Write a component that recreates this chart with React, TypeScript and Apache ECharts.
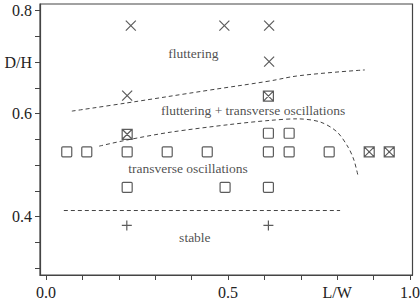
import React, { useEffect, useRef } from "react";
import * as echarts from "echarts";

// ---- data ----
const squares: [number, number][] = [
  [0.057, 0.526], [0.112, 0.526], [0.223, 0.526], [0.333, 0.526], [0.443, 0.526],
  [0.611, 0.526], [0.668, 0.526], [0.778, 0.526],
  [0.611, 0.562], [0.668, 0.562],
  [0.223, 0.457], [0.492, 0.457], [0.611, 0.457],
];
const boxedCrosses: [number, number][] = [
  [0.223, 0.560], [0.611, 0.634], [0.888, 0.526], [0.943, 0.526],
];
const crosses: [number, number][] = [
  [0.233, 0.771], [0.490, 0.771], [0.613, 0.771], [0.613, 0.701], [0.223, 0.635],
];
const pluses: [number, number][] = [
  [0.222, 0.383], [0.611, 0.383],
];
const flutterBoundary: [number, number][] = [
  [0.071, 0.605], [0.223, 0.621], [0.451, 0.646], [0.610, 0.663], [0.698, 0.674], [0.876, 0.685],
];
const transverseBoundary: [number, number][] = [
  [0.146, 0.537], [0.223, 0.549], [0.341, 0.564], [0.505, 0.579], [0.615, 0.587],
  [0.689, 0.590], [0.753, 0.584], [0.799, 0.565], [0.830, 0.535], [0.846, 0.510], [0.858, 0.477],
];
const stableBoundary: [number, number][] = [
  [0.049, 0.412], [0.808, 0.412],
];
const regionLabels = [
  { name: "fluttering", value: [0.405, 0.717] },
  { name: "fluttering + transverse oscillations", value: [0.569, 0.607] },
  { name: "transverse oscillations", value: [0.390, 0.494] },
  { name: "stable", value: [0.409, 0.359] },
];
const xTicks = [0, 0.1, 0.2, 0.3, 0.4, 0.5, 0.6, 0.7, 0.8, 0.9, 1.0];
const xLabels = [0, 0.5, 0.8, 1.0];
const yTicks = [0.3, 0.35, 0.4, 0.45, 0.5, 0.55, 0.6, 0.65, 0.7, 0.75, 0.8];
const yLabels = [0.4, 0.6, 0.7, 0.8];
const xTitle = "L/W";
const yTitle = "D/H";

const FONT = "Liberation Serif";
const INK = "#333";

export default function App() {
  const ref = useRef<HTMLDivElement>(null);
  useEffect(() => {
    if (!ref.current) return;
    const chart = echarts.init(ref.current, null, { renderer: "svg" });
    const markerStyle = { color: "rgba(0,0,0,0)", borderColor: INK, borderWidth: 1.2 };
    const dashed = (data: [number, number][], smooth: number | boolean) => ({
      type: "line",
      data,
      smooth,
      showSymbol: false,
      symbol: "none",
      lineStyle: { color: "#444", width: 1, type: [4, 3] },
      z: 1,
    });
    chart.setOption({
      animation: false,
      backgroundColor: "#fff",
      grid: {
        left: 40, right: 7.5, top: 4, bottom: 29,
        containLabel: false,
        outerBoundsMode: "none",
        show: true,
        borderColor: "#444",
        borderWidth: 1.2,
      },
      xAxis: {
        type: "value",
        min: -0.0165,
        max: 1.0069,
        splitLine: { show: false },
        axisLine: { show: true, onZero: false, lineStyle: { color: "#444", width: 1.2 } },
        axisTick: { show: true, inside: false, length: 5, customValues: xTicks, lineStyle: { color: "#444", width: 1 } },
        axisLabel: {
          show: true,
          customValues: xLabels,
          margin: 9,
          fontFamily: FONT,
          fontSize: 16,
          color: "#222",
          formatter: (v: number) => (Math.abs(v - 0.8) < 1e-6 ? xTitle : v.toFixed(1)),
        },
      },
      yAxis: {
        type: "value",
        min: 0.2868,
        max: 0.813,
        splitLine: { show: false },
        axisLine: { show: true, onZero: false, lineStyle: { color: "#444", width: 1.2 } },
        axisTick: { show: true, inside: false, length: 5, customValues: yTicks, lineStyle: { color: "#444", width: 1 } },
        axisLabel: {
          show: true,
          customValues: yLabels,
          margin: 8,
          fontFamily: FONT,
          fontSize: 16,
          color: "#222",
          formatter: (v: number) => (Math.abs(v - 0.7) < 1e-6 ? yTitle : v.toFixed(1)),
        },
      },
      series: [
        dashed(flutterBoundary, 0.4),
        dashed(transverseBoundary, 0.3),
        dashed(stableBoundary, false),
        {
          type: "scatter",
          data: squares,
          symbol: "path://M1,0L9,0Q10,0 10,1L10,9Q10,10 9,10L1,10Q0,10 0,9L0,1Q0,0 1,0Z",
          symbolSize: 10,
          itemStyle: markerStyle,
          z: 3,
        },
        {
          type: "scatter",
          data: boxedCrosses,
          symbol: "path://M0,0L10,0L10,10L0,10ZM0,0L10,10M10,0L0,10",
          symbolSize: 10,
          itemStyle: markerStyle,
          z: 3,
        },
        {
          type: "scatter",
          data: crosses,
          symbol: "path://M0,0L10,10M10,0L0,10",
          symbolSize: 10,
          itemStyle: markerStyle,
          z: 3,
        },
        {
          type: "scatter",
          data: pluses,
          symbol: "path://M5,0L5,10M0,5L10,5",
          symbolSize: 10,
          itemStyle: markerStyle,
          z: 3,
        },
        {
          type: "scatter",
          data: regionLabels,
          symbolSize: 0,
          itemStyle: { color: "rgba(0,0,0,0)" },
          label: {
            show: true,
            position: "inside",
            formatter: (p: any) => p.name,
            fontFamily: FONT,
            fontSize: 13.5,
            color: "#222",
          },
          z: 4,
        },
      ],
    });
    return () => chart.dispose();
  }, []);
  return (
    <div
      ref={ref}
      style={{ position: "fixed", left: 0, top: 0, width: 420, height: 304, background: "#fff" }}
    />
  );
}
